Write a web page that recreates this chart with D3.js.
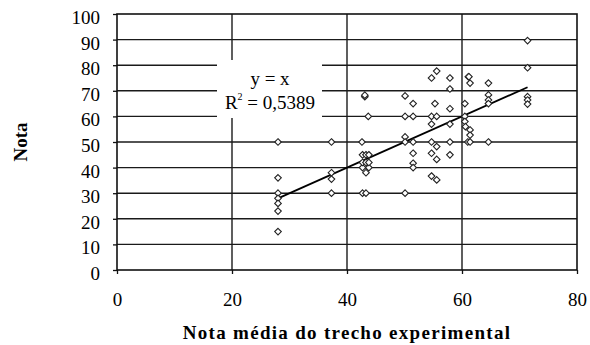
<!DOCTYPE html>
<html><head><meta charset="utf-8">
<script src="https://cdn.jsdelivr.net/npm/d3@7"></script>
<style>
body{margin:0;background:#fff;}
text{font-family:"Liberation Serif","Times New Roman",serif;fill:#000;}
</style></head>
<body><svg id="c" width="590" height="345"></svg>
<script>
// Data: x = nota média do trecho experimental, y = nota
const xVals = [
  28,28,28,28,28,28,28,
  37.3,37.3,37.3,37.3,
  42.6,42.7,42.7,42.7,42.7,43.1,43.1,43.3,43.3,43.3,43.3,43.7,43.8,43.8,43.8,
  50.1,50.1,50.1,50.1,50.1,
  51.5,51.5,51.5,51.5,51.5,51.5,
  54.7,54.7,54.7,54.7,54.7,54.7,
  55.6,55.3,55.6,55.6,55.6,55.6,
  57.9,57.9,57.9,57.9,57.9,57.9,
  61.1,61.2,61.4,60.5,60.5,60.5,60.6,61.4,61.4,61,61.4,
  64.6,64.6,64.6,64.6,64.6,
  71.4,71.4,71.4,71.4,71.4
];
const yVals = [
  50,36,30,28,26,23,15,
  50,38,35.5,30,
  50,45,40,30,42,67.7,68.3,45,42,38,30,60,45,40,42,
  68,60,52,50,30,
  65,60,50,45.6,41.7,40,
  75,60,57,50,45.6,36.7,
  77.7,65,60,48.2,43.2,35.2,
  75,70.7,63,57,50,45,
  75.5,75.5,73,65,60,58,56,54.7,52.7,50,50,
  73,68.4,66.4,65,50,
  89.6,79,67.7,66.4,64.8
];
const trendX = [28, 71.4];
const xTicks = [0,20,40,60,80];
const yTicks = [0,10,20,30,40,50,60,70,80,90,100];
const eqLines = ["y = x", "R", " = 0,5389"];
const xTitle = "Nota média do trecho experimental";
const yTitle = "Nota";

const svg = d3.select("#c");
const L=117, R=577, T=14, B=270;
const x = d3.scaleLinear().domain([0,80]).range([L,R]);
const y = d3.scaleLinear().domain([0,100]).range([B,T]);

// grid
svg.append("g").selectAll("line.h").data(yTicks.slice(1,-1)).join("line")
  .attr("x1",L).attr("x2",R).attr("y1",d=>y(d)).attr("y2",d=>y(d))
  .attr("stroke","#1a1a1a").attr("stroke-width",1.4);
svg.append("g").selectAll("line.v").data(xTicks.slice(1,-1)).join("line")
  .attr("y1",T).attr("y2",B).attr("x1",d=>x(d)).attr("x2",d=>x(d))
  .attr("stroke","#1a1a1a").attr("stroke-width",1.4);

// axes
const ya = svg.append("g").attr("transform",`translate(${L},0)`)
  .call(d3.axisLeft(y).tickValues(yTicks).tickSize(4).tickPadding(13));
const xa = svg.append("g").attr("transform",`translate(0,${B})`)
  .call(d3.axisBottom(x).tickValues(xTicks).tickSize(4).tickPadding(19));
[ya,xa].forEach(g=>{
  g.select(".domain").remove();
  g.selectAll(".tick line").attr("stroke","#111").attr("stroke-width",1.3);
  g.selectAll(".tick text").style("font-family","Liberation Serif").style("font-size","19px").attr("fill","#222");
});
ya.selectAll(".tick text").attr("dy","0.5em");

// border
svg.append("rect").attr("x",L).attr("y",T).attr("width",R-L).attr("height",B-T)
  .attr("fill","none").attr("stroke","#111").attr("stroke-width",1.6);

// equation box
svg.append("rect").attr("x",217).attr("y",60).attr("width",105).attr("height",58).attr("fill","#fff");
svg.append("text").attr("x",270).attr("y",85).attr("text-anchor","middle")
  .style("font-size","19px").attr("fill","#222").text(eqLines[0]);
const t2 = svg.append("text").attr("x",270).attr("y",109).attr("text-anchor","middle").style("font-size","19px").attr("fill","#222");
t2.append("tspan").text(eqLines[1]);
t2.append("tspan").attr("dy",-9).style("font-size","10px").text("2");
t2.append("tspan").attr("dy",9).text(eqLines[2]);

// trendline
svg.append("line").attr("x1",x(trendX[0])).attr("y1",y(trendX[0]))
  .attr("x2",x(trendX[1])).attr("y2",y(trendX[1]))
  .attr("stroke","#000").attr("stroke-width",1.8);

// points
const pts = xVals.map((v,i)=>[v,yVals[i]]);
svg.append("g").selectAll("path").data(pts).join("path")
  .attr("transform",d=>`translate(${x(d[0])},${y(d[1])})`)
  .attr("d","M0,-3.3L3.3,0L0,3.3L-3.3,0Z")
  .attr("fill","#fff").attr("stroke","#222").attr("stroke-width",1.1);

// titles
svg.append("text").attr("x",(L+R)/2).attr("y",339).attr("text-anchor","middle")
  .style("font-size","19px").style("font-weight","bold").style("letter-spacing","1.3px").text(xTitle);
svg.append("text").attr("transform",`translate(27,${(T+B)/2}) rotate(-90)`).attr("text-anchor","middle")
  .style("font-size","19px").style("font-weight","bold").text(yTitle);
</script></body></html>
